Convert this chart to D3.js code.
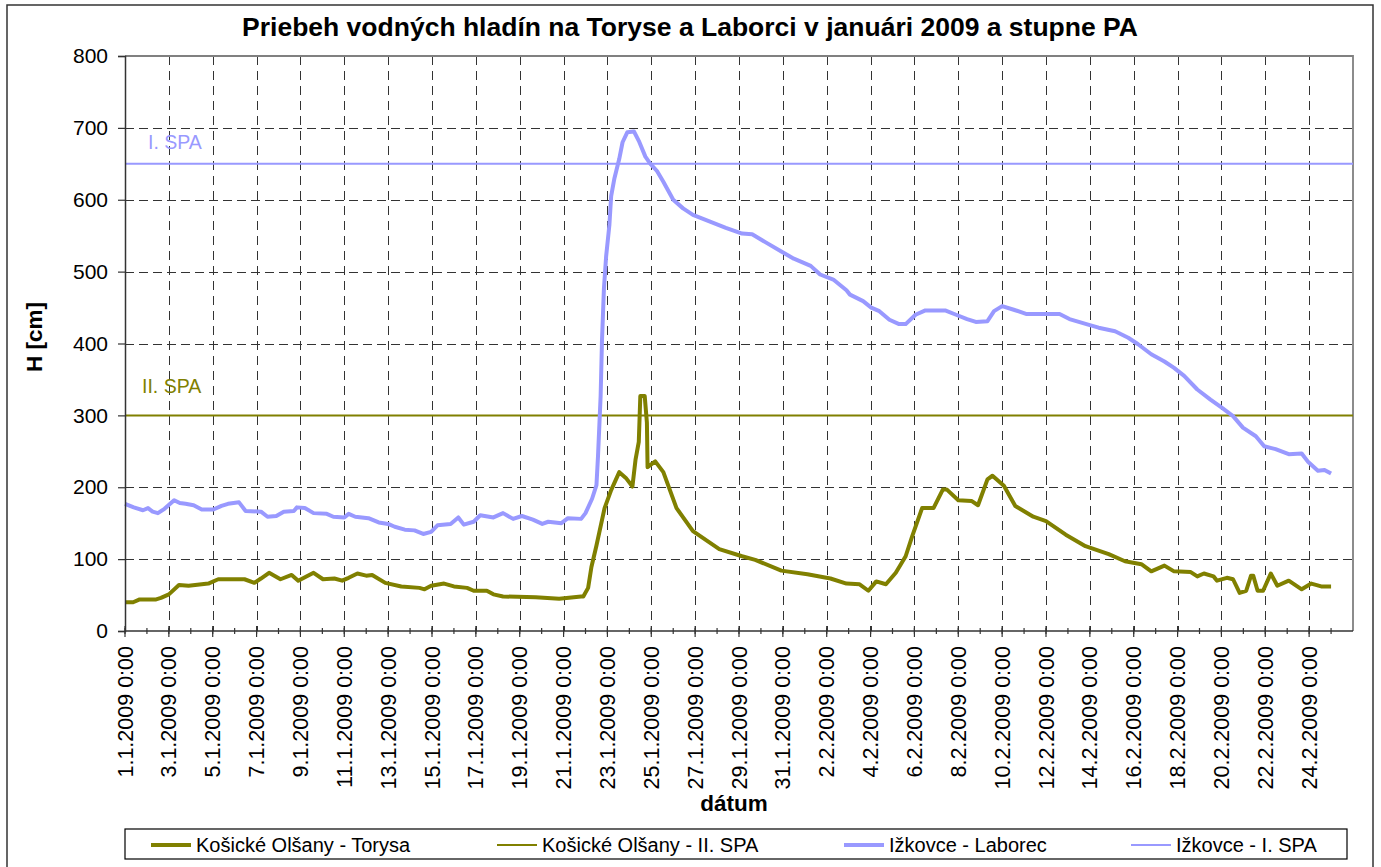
<!DOCTYPE html>
<html>
<head>
<meta charset="utf-8">
<script src="https://cdn.jsdelivr.net/npm/d3@7/dist/d3.min.js"></script>
<style>
  html, body { margin: 0; padding: 0; background: #fff; }
  svg text { font-family: "Liberation Sans", Arial, sans-serif; }
</style>
</head>
<body>
<svg id="chart" width="1381" height="867"></svg>
<script>
// Water levels [days since 1.1.2009 0:00, H in cm]
const torysaLevel = [
  [0,40],[0.37,40],[0.67,44],[1.42,44],[1.64,46],[2.0,51],[2.46,64],[2.9,63],[3.8,66],[4.25,72],
  [5.45,72],[5.9,67],[6.2,73],[6.57,81],[7.09,72],[7.6,78],[7.9,70],[8.6,81],[9.03,72],[9.55,73],
  [9.9,70],[10.2,74],[10.6,80],[11.0,77],[11.27,78],[11.87,67],[12.6,62],[13.43,60],[13.66,58],[13.96,63],
  [14.55,66],[15.0,62],[15.6,60],[15.9,56],[16.5,56],[16.8,51],[17.24,48],[18.73,47],[19.8,45],[20.8,48],
  [20.9,48],[21.12,60],[21.27,89],[21.5,119],[21.87,171],[22.17,196],[22.54,221],[22.84,213],[23.14,201],[23.28,238],
  [23.43,263],[23.5,327],[23.7,327],[23.8,290],[23.83,228],[24.18,236],[24.55,221],[25.15,171],[25.9,139],[27.1,114],
  [28.14,104],[28.74,99],[29.93,84],[31.12,79],[32.17,73],[32.9,66],[33.5,65],[33.9,56],[34.26,69],[34.7,65],
  [35.15,81],[35.6,104],[35.9,132],[36.35,171],[36.87,171],[37.3,197],[37.47,197],[38.0,182],[38.6,181],[38.9,175],
  [39.33,211],[39.56,216],[40.08,202],[40.6,174],[41.42,159],[42.0,153],[42.9,134],[43.8,118],[44.86,107],[45.6,97],
  [46.35,93],[46.8,83],[47.4,91],[47.84,83],[48.6,82],[48.9,76],[49.2,80],[49.64,76],[49.8,70],[50.25,74],
  [50.53,72],[50.83,53],[51.13,56],[51.35,77],[51.45,77],[51.65,56],[51.9,56],[52.25,80],[52.55,63],[53.07,70],
  [53.66,58],[54.1,66],[54.55,62],[55.0,62]
];
const laborecLevel = [
  [0,177],[0.4,172],[0.82,168],[1.05,171],[1.26,166],[1.5,164],[1.8,170],[2.24,182],[2.5,178],[2.76,177],
  [3.13,175],[3.5,169],[4.03,169],[4.4,174],[4.7,177],[5.2,179],[5.5,167],[6.2,166],[6.5,159],[6.9,160],
  [7.24,166],[7.7,167],[7.84,172],[8.2,171],[8.6,164],[9.2,163],[9.5,159],[10.0,158],[10.2,163],[10.5,159],
  [11.1,157],[11.57,151],[12.0,149],[12.3,145],[12.76,141],[13.2,140],[13.6,135],[13.96,138],[14.25,147],[14.85,149],
  [15.2,158],[15.45,148],[15.9,152],[16.2,161],[16.8,158],[17.24,164],[17.7,156],[18.1,160],[18.6,155],[19.03,149],
  [19.3,152],[19.9,150],[20.2,157],[20.8,156],[21.0,164],[21.3,184],[21.5,203],[21.57,243],[21.69,327],[21.75,402],
  [21.84,476],[21.94,521],[22.09,565],[22.17,605],[22.32,630],[22.54,657],[22.69,680],[22.91,694],[23.21,695],[23.43,682],
  [23.73,660],[23.96,650],[24.26,640],[24.55,625],[25.0,600],[25.45,588],[25.9,579],[26.65,570],[27.4,561],[28.14,553],
  [28.6,552],[29.2,541],[29.93,528],[30.5,518],[31.27,508],[31.7,496],[32.3,489],[32.9,474],[33.06,468],[33.66,459],
  [34.03,450],[34.4,445],[34.86,433],[35.3,427],[35.6,427],[36.05,440],[36.5,446],[37.4,446],[37.9,440],[38.4,434],
  [38.8,430],[39.33,431],[39.63,445],[40.0,452],[40.53,447],[41.12,441],[42.62,441],[43.07,434],[43.96,426],[44.4,422],
  [45.15,417],[45.75,408],[46.2,399],[46.8,385],[47.4,375],[47.84,366],[48.3,355],[48.9,336],[49.5,322],[50.0,311],
  [50.53,299],[50.98,283],[51.57,271],[51.95,257],[52.47,253],[53.07,246],[53.66,247],[53.96,235],[54.4,223],[54.7,224],
  [55.0,219]
];
// Flood warning stages (stupne povodňovej aktivity)
const torysaStage = 300;   // Košické Olšany - II. SPA
const laborecStage = 650;  // Ižkovce - I. SPA

const seriesNames = ["Košické Olšany - Torysa", "Košické Olšany - II. SPA", "Ižkovce - Laborec", "Ižkovce - I. SPA"];
const yTicks = [0, 100, 200, 300, 400, 500, 600, 700, 800];
const startDate = new Date(2009, 0, 1);
const endDate = new Date(2009, 1, 26);

const olive = "#808000", lilac = "#9999ff";
const dayMs = 864e5;
const toDate = d => new Date(startDate.getTime() + d * dayMs);

const svg = d3.select("#chart");
const plot = { left: 125, top: 56, right: 1353, bottom: 631 };

// outer chart frame
svg.append("rect").attr("x", 7).attr("y", 5).attr("width", 1366).attr("height", 880)
  .attr("fill", "#fff").attr("stroke", "#333").attr("stroke-width", 1.5);

const x = d3.scaleTime().domain([startDate, endDate]).range([plot.left, plot.right]);
const y = d3.scaleLinear().domain([0, 800]).range([plot.bottom, plot.top]);
const px = v => Math.round(v) + 0.5;

// title
svg.append("text").attr("x", 690).attr("y", 36).attr("text-anchor", "middle")
  .attr("font-size", 26.5).attr("font-weight", "bold")
  .text("Priebeh vodných hladín na Toryse a Laborci v januári 2009 a stupne PA");

// gridlines
const majorDays = d3.range(0, 55, 2).map(toDate);
const minorDays = d3.range(0, 56).map(toDate);
const grid = svg.append("g").attr("shape-rendering", "crispEdges");
grid.selectAll("line.h").data(yTicks.filter(v => v > 0 && v < 800)).join("line")
  .attr("x1", plot.left).attr("x2", plot.right)
  .attr("y1", d => px(y(d))).attr("y2", d => px(y(d)))
  .attr("stroke", "#333").attr("stroke-width", 1).attr("stroke-dasharray", "9,5");
grid.selectAll("line.v").data(majorDays.slice(1)).join("line")
  .attr("x1", d => px(x(d))).attr("x2", d => px(x(d)))
  .attr("y1", plot.top).attr("y2", plot.bottom)
  .attr("stroke", "#333").attr("stroke-width", 1).attr("stroke-dasharray", "9,6");

// plot frame (top/right)
svg.append("path")
  .attr("d", `M${plot.left},${plot.top}H${plot.right}V${plot.bottom}`)
  .attr("fill", "none").attr("stroke", "#808080").attr("stroke-width", 1.8);

// stage thresholds
svg.append("line").attr("x1", plot.left).attr("x2", plot.right)
  .attr("y1", y(laborecStage)).attr("y2", y(laborecStage))
  .attr("stroke", lilac).attr("stroke-width", 2);
svg.append("line").attr("x1", plot.left).attr("x2", plot.right)
  .attr("y1", y(torysaStage)).attr("y2", y(torysaStage))
  .attr("stroke", olive).attr("stroke-width", 2);
svg.append("text").attr("x", 148).attr("y", 149).attr("font-size", 19.5).attr("fill", lilac).text("I. SPA");
svg.append("text").attr("x", 142).attr("y", 393).attr("font-size", 19.5).attr("fill", olive).text("II. SPA");

// series lines
const line = d3.line().x(d => x(toDate(d[0]))).y(d => y(d[1]));
svg.append("path").datum(laborecLevel).attr("d", line)
  .attr("fill", "none").attr("stroke", lilac).attr("stroke-width", 4).attr("stroke-linejoin", "round");
svg.append("path").datum(torysaLevel).attr("d", line)
  .attr("fill", "none").attr("stroke", olive).attr("stroke-width", 4).attr("stroke-linejoin", "round");

// y axis
const yAxis = svg.append("g").attr("transform", `translate(${plot.left},0)`)
  .call(d3.axisLeft(y).tickValues(yTicks).tickSize(7).tickPadding(10).tickFormat(d3.format("d")));
yAxis.select(".domain").attr("stroke", "#333").attr("stroke-width", 1.5);
yAxis.selectAll(".tick line").attr("stroke", "#333").attr("stroke-width", 1.2);
yAxis.selectAll(".tick text").attr("font-size", 21).attr("fill", "#000")
  .attr("font-family", "'Liberation Sans', Arial, sans-serif");

// x axis: day ticks crossing the axis line, labels every second day
const xAxis = svg.append("g");
xAxis.append("line").attr("x1", plot.left).attr("x2", plot.right)
  .attr("y1", plot.bottom).attr("y2", plot.bottom).attr("stroke", "#333").attr("stroke-width", 1.5);
xAxis.selectAll("line.minor").data(minorDays).join("line")
  .attr("x1", d => x(d)).attr("x2", d => x(d))
  .attr("y1", plot.bottom - 3).attr("y2", plot.bottom + 3)
  .attr("stroke", "#333").attr("stroke-width", 1.2);
xAxis.selectAll("line.major").data(majorDays).join("line")
  .attr("x1", d => x(d)).attr("x2", d => x(d))
  .attr("y1", plot.bottom - 5).attr("y2", plot.bottom + 6)
  .attr("stroke", "#333").attr("stroke-width", 1.2);
const fmt = d3.timeFormat("%-d.%-m.%Y %-H:%M");
xAxis.selectAll("text").data(majorDays).join("text")
  .attr("transform", d => `translate(${x(d)},646) rotate(-90)`)
  .attr("text-anchor", "end").attr("dy", "0.35em")
  .attr("font-size", 21.5).text(fmt);

// axis titles
svg.append("text").attr("x", 734).attr("y", 811).attr("text-anchor", "middle")
  .attr("font-size", 22.5).attr("font-weight", "bold").text("dátum");
svg.append("text").attr("transform", "translate(42,337) rotate(-90)").attr("text-anchor", "middle")
  .attr("font-size", 22.5).attr("font-weight", "bold").text("H [cm]");

// legend
const legend = svg.append("g");
legend.append("rect").attr("x", 125).attr("y", 829).attr("width", 1222).attr("height", 30)
  .attr("fill", "#fff").attr("stroke", "#000").attr("stroke-width", 1.2);
const legendItems = [
  { name: seriesNames[0], color: olive, w: 4, x0: 151 },
  { name: seriesNames[1], color: olive, w: 2, x0: 497 },
  { name: seriesNames[2], color: lilac, w: 4, x0: 844 },
  { name: seriesNames[3], color: lilac, w: 2, x0: 1131 }
];
legendItems.forEach(it => {
  legend.append("line").attr("x1", it.x0).attr("x2", it.x0 + 40).attr("y1", 845).attr("y2", 845)
    .attr("stroke", it.color).attr("stroke-width", it.w);
  legend.append("text").attr("x", it.x0 + 45).attr("y", 852).attr("font-size", 20).text(it.name);
});
</script>
</body>
</html>
